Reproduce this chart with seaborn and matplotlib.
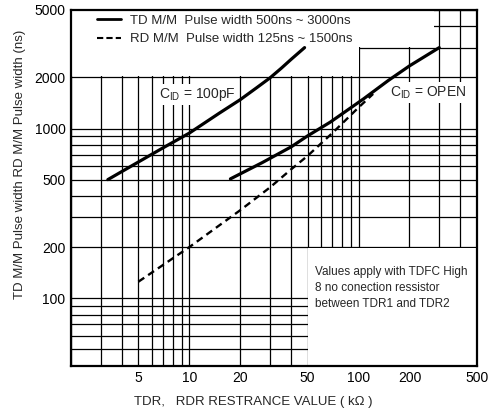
""" TD / RD pulse width vs resistance """

import matplotlib
matplotlib.use('Agg')
import matplotlib.pyplot as plt
from matplotlib.lines import Line2D
from matplotlib.patches import Rectangle
from matplotlib.ticker import FixedLocator, LogLocator, NullFormatter
import seaborn as sns

# TD M/M pulse width, C_ID = 100 pF  (kOhm, ns)
td_100_r = [3.3, 5, 7, 10, 15, 20, 25, 30, 35, 40, 48]
td_100_ns = [500, 635, 770, 940, 1230, 1480, 1740, 1990, 2270, 2560, 3000]

# TD M/M pulse width, C_ID = OPEN
td_open_r = [17.5, 27, 40, 50, 68, 107, 150, 200, 300]
td_open_ns = [505, 630, 780, 905, 1090, 1495, 1920, 2340, 3000]

# RD M/M pulse width
rd_r = [5, 10, 20, 30, 40, 50, 70, 100, 122]
rd_ns = [125, 200, 330, 450, 575, 690, 940, 1330, 1600]

x_ticks = [5, 10, 20, 50, 100, 200, 500]
y_ticks = [100, 200, 500, 1000, 2000, 5000]

sns.set_style('white')
plt.rcParams['font.family'] = ['Liberation Sans Narrow', 'Liberation Sans', 'DejaVu Sans']
plt.rcParams['mathtext.fontset'] = 'custom'
plt.rcParams['mathtext.rm'] = 'Liberation Sans'

fig = plt.figure(figsize=(4.9, 4.16), dpi=100)
ax = fig.add_axes([0.145, 0.121, 0.828, 0.855])
ax.set_xscale('log')
ax.set_yscale('log')
ax.set_xlim(2, 500)
ax.set_ylim(40, 5000)

# grid like the datasheet
ax.set_axisbelow(True)
ax.xaxis.set_major_locator(FixedLocator(x_ticks))
ax.yaxis.set_major_locator(FixedLocator(y_ticks))
ax.xaxis.set_minor_locator(LogLocator(base=10, subs=range(1, 10)))
ax.yaxis.set_minor_locator(LogLocator(base=10, subs=range(1, 10)))
ax.xaxis.set_minor_formatter(NullFormatter())
ax.yaxis.set_minor_formatter(NullFormatter())
ax.set_xticklabels([str(v) for v in x_ticks])
ax.set_yticklabels([str(v) for v in y_ticks])
ax.grid(which='both', color='black', lw=0.9)
ax.tick_params(which='both', length=0, labelsize=10, colors='black', pad=4)
for s in ax.spines.values():
    s.set_color('black')
    s.set_linewidth(1.6)

# blank areas for legend and note
white = dict(facecolor='white', edgecolor='none', zorder=1)
ax.add_patch(Rectangle((2, 2030), 98, 2970, **white))
ax.add_patch(Rectangle((101, 3040), 179, 1960, **white))
ax.add_patch(Rectangle((50.5, 40), 449.5, 157, **white))

sns.lineplot(x=td_100_r, y=td_100_ns, ax=ax, color='black', lw=2.3, zorder=3)
sns.lineplot(x=td_open_r, y=td_open_ns, ax=ax, color='black', lw=2.3, zorder=3)
sns.lineplot(x=rd_r, y=rd_ns, ax=ax, color='black', lw=1.7, linestyle=(0, (3, 2)), zorder=3)

handles = [Line2D([], [], color='black', lw=2.0),
           Line2D([], [], color='black', lw=1.5, linestyle=(0, (3, 1.5)))]
labels = ['TD M/M  Pulse width 500ns ~ 3000ns',
          'RD M/M  Pulse width 125ns ~ 1500ns']
ax.legend(handles, labels, loc='upper left', bbox_to_anchor=(0.035, 1.02),
          frameon=False, fontsize=9.5, handlelength=1.8, handletextpad=0.7,
          labelspacing=0.45)

tb = dict(facecolor='white', edgecolor='none', pad=1.5)
ax.text(11.1, 1585, r'C$_{\rm ID}$ = 100pF', ha='center', va='center',
        fontsize=10, bbox=tb, zorder=2)
ax.text(259, 1629, r'C$_{\rm ID}$ = OPEN', ha='center', va='center',
        fontsize=10, bbox=tb, zorder=2)
ax.text(55, 155, 'Values apply with TDFC High\n8 no conection ressistor\nbetween TDR1 and TDR2',
        ha='left', va='top', fontsize=8.5, linespacing=1.45, zorder=2)

ax.set_xlabel('TDR,   RDR RESTRANCE VALUE ( k\u03a9 )', fontsize=9.5)
ax.xaxis.set_label_coords(0.45, -0.085)
ax.set_ylabel('TD M/M Pulse width RD M/M Pulse width (ns)', fontsize=9.5)
ax.yaxis.set_label_coords(-0.112, 0.567)

plt.savefig('out.png', dpi=100)
